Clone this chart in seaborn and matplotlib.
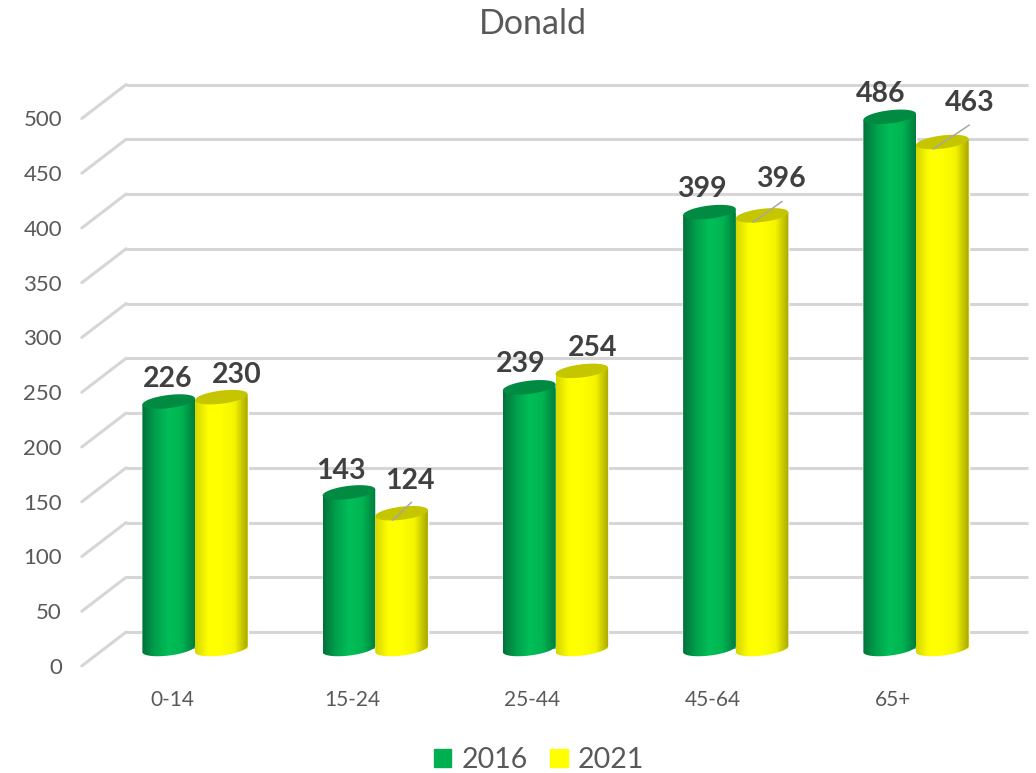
import numpy as np
import pandas as pd
import matplotlib
matplotlib.use("Agg")
import matplotlib.pyplot as plt
import seaborn as sns
from matplotlib.colors import LinearSegmentedColormap
from matplotlib.patches import Patch, Polygon

# values
age_groups = ["0-14", "15-24", "25-44", "45-64", "65+"]
values_2016 = [226, 143, 239, 399, 486]
values_2021 = [230, 124, 254, 396, 463]
y_ticks = [0, 50, 100, 150, 200, 250, 300, 350, 400, 450, 500]

# 3d look
DEPTH = 15.5        # half of the wall offset, in value units
HALF_DEPTH_X = 0.128
TICK_SHIFT = 0.128
ELLIPSE_B = 6.0
ELLIPSE_TILT = 2.8
LABEL_OFFSETS = [[(-1, 23), (-8, 21), (-8, 23), (-8, 23), (-9, 23)],
                 [(15, 22), (8, 32), (11, 23), (19, 36), (27, 39)]]
LEADERS = {"15-24": (10, 11), "45-64": (20, 14), "65+": (27, 17)}

W, H = 1036, 773
sns.set_theme(style="white")
plt.rcParams["font.family"] = ["Lato", "DejaVu Sans"]

df = pd.DataFrame({
    "age": age_groups * 2,
    "value": values_2016 + values_2021,
    "year": ["2016"] * 5 + ["2021"] * 5,
})

colors = {"2016": "#00B050", "2021": "#FFFF00"}
fig = plt.figure(figsize=(W / 100, H / 100), dpi=100)
ax = fig.add_axes([80 / W, 1 - 690 / H, 950 / W, 630 / H])
sns.barplot(data=df, x="age", y="value", hue="year", palette=colors, width=0.584,
            gap=0, saturation=1, legend=False, ax=ax, zorder=2)

xlim = ((80 - 195) / 180.25, (1030 - 195) / 180.25)
ylim = ((649 - 690) / 1.095, (649 - 60) / 1.095)

# back wall and side wall grid
back_left = xlim[0] + 2 * HALF_DEPTH_X
ax.hlines([v + DEPTH for v in y_ticks], back_left, (1028 - 195) / 180.25,
          color="#D6D6D6", lw=2.2, zorder=1)
for v in y_ticks:
    ax.plot([xlim[0] + 0.01, back_left], [v - DEPTH, v + DEPTH], color="#D6D6D6", lw=2.2,
            zorder=1, clip_on=False, solid_capstyle="round")

cmaps = [
    LinearSegmentedColormap.from_list("g", ["#00723A", "#00A04C", "#00BE58", "#00B452", "#007C3C"]),
    LinearSegmentedColormap.from_list("y", ["#D6D600", "#FFFF00", "#FFFF00", "#F4F400", "#A6A600"]),
]
top_colors = ["#008A42", "#C6C600"]
gradient = np.linspace(0, 1, 256).reshape(1, -1)
t_low = np.linspace(np.pi, 2 * np.pi, 50)
t_full = np.linspace(0, 2 * np.pi, 100)

order = 3
for container, cmap, top_color, offsets in zip(ax.containers, cmaps, top_colors, LABEL_OFFSETS):
    for bar, (dx, dy) in zip(container, offsets):
        x0 = bar.get_x()
        a = bar.get_width() / 2
        cx = x0 + a
        v = bar.get_height()

        # body = side walls and the lower half of an ellipse
        bx = cx + a * np.cos(t_low)
        by = ELLIPSE_B * np.sin(t_low) + ELLIPSE_TILT * np.cos(t_low)
        body = np.column_stack([bx, by])
        body = np.vstack([[[x0, v - ELLIPSE_TILT]], body, [[x0 + 2 * a, v + ELLIPSE_TILT]]])
        clip = Polygon(body, closed=True, transform=ax.transData, fc="none", ec="none")
        ax.add_patch(clip)
        im = ax.imshow(gradient, extent=(x0, x0 + 2 * a, -20, v + 20), aspect="auto",
                       cmap=cmap, interpolation="bilinear", zorder=order)
        im.set_clip_path(clip)

        top = np.column_stack([cx + a * np.cos(t_full),
                               v + ELLIPSE_B * np.sin(t_full) + ELLIPSE_TILT * np.cos(t_full)])
        ax.add_patch(Polygon(top, closed=True, fc=top_color, ec="none", zorder=order + 1))
        order += 2

        # value label above the bar
        ax.annotate(str(int(v)), xy=(cx, v), xytext=(dx, dy), textcoords="offset pixels",
                    ha="center", va="center", fontsize=20.5, fontweight="bold",
                    color="#404040", zorder=50)

# leader lines on the yellow bars
for bar, name in zip(ax.containers[1], age_groups):
    if name in LEADERS:
        cx = bar.get_x() + bar.get_width() / 2
        v = bar.get_height()
        ex, ey = LEADERS[name]
        ax.annotate("", xy=(cx + ex / 180.25, v + ey / 1.095),
                    xytext=(cx - 9 / 180.25, v - 7 / 1.095),
                    arrowprops=dict(arrowstyle="-", color="#A6A6A6", lw=1.1,
                                    shrinkA=0, shrinkB=0), zorder=49)

ax.set_xlim(xlim)
ax.set_ylim(ylim)
ax.set_xticks([i - TICK_SHIFT for i in range(len(age_groups))], age_groups)
ax.set_yticks([v - DEPTH for v in y_ticks], [str(v) for v in y_ticks])
ax.tick_params(axis="x", length=0, pad=0, labelsize=15, labelcolor="#595959")
ax.tick_params(axis="y", length=0, pad=13, labelsize=16, labelcolor="#595959")
ax.set_xlabel("")
ax.set_ylabel("")
sns.despine(ax=ax, left=True, bottom=True)

fig.suptitle("Donald", x=533 / W, y=1 - 24 / H, va="center", fontsize=24.5, color="#595959")
handles = [Patch(color=colors[y], label=y) for y in colors]
fig.legend(handles=handles, loc="center", bbox_to_anchor=(539 / W, 1 - 760 / H), ncol=2,
           frameon=False, fontsize=20.5, labelcolor="#595959", handlelength=0.62, handleheight=0.62,
           handletextpad=0.35, columnspacing=0.8)

fig.savefig("out.png", dpi=100)
